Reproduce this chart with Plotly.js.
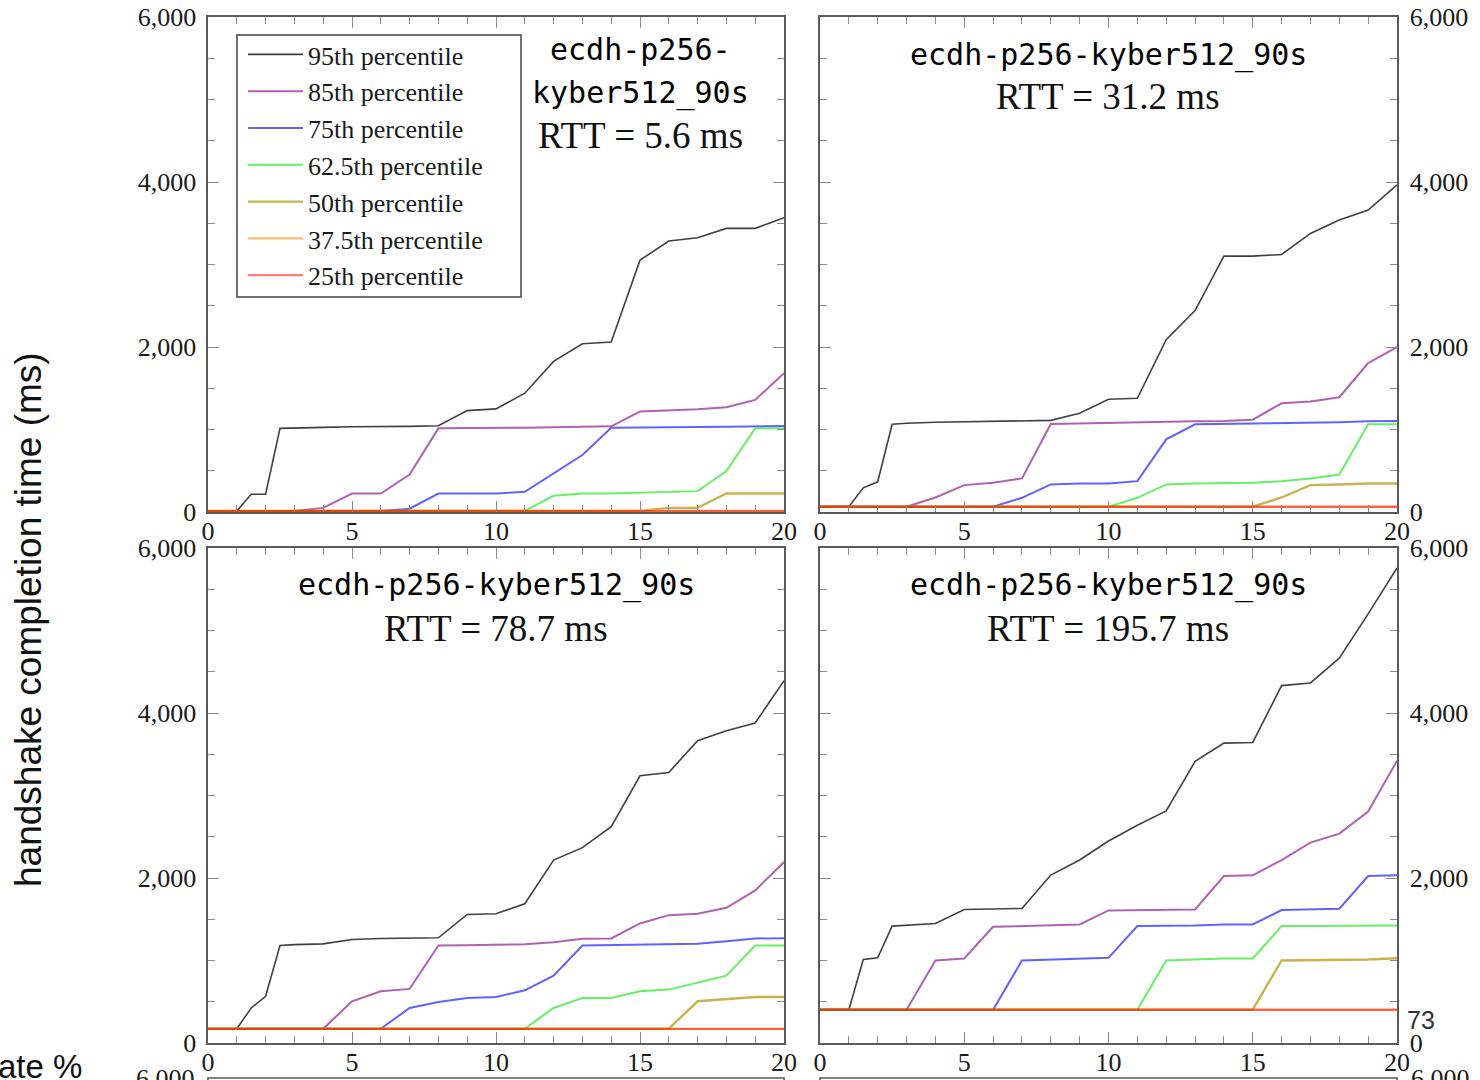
<!DOCTYPE html>
<html>
<head>
<meta charset="utf-8">
<script src="https://cdn.plot.ly/plotly-3.0.1.min.js"></script>
<style>
html,body{margin:0;padding:0;background:#fff;overflow:hidden;width:1480px;height:1080px;}
#chart{width:1480px;height:1080px;}
</style>
</head>
<body>
<div id="chart"></div>
<script>
// ---- data ----
const lossRate = [0, 1, 1.5, 2, 2.5, 3, 4, 5, 6, 7, 8, 9, 10, 11, 12, 13, 14, 15, 16, 17, 18, 19, 20];
const percentileNames = ['95th percentile','85th percentile','75th percentile','62.5th percentile','50th percentile','37.5th percentile','25th percentile'];
const panelTitles = ['ecdh-p256-kyber512_90s','ecdh-p256-kyber512_90s','ecdh-p256-kyber512_90s','ecdh-p256-kyber512_90s'];
const panelRtt = ['RTT = 5.6 ms','RTT = 31.2 ms','RTT = 78.7 ms','RTT = 195.7 ms'];

// RTT 5.6 ms
const rtt5_p95  = [12,12,216,216,1014,1020,1026,1034,1034,1038,1046,1229,1250,1440,1825,2040,2060,3053,3284,3324,3438,3438,3567];
const rtt5_p85  = [12,12,12,12,12,12,50,224,224,455,1014,1014,1022,1022,1026,1030,1038,1217,1229,1245,1270,1359,1683];
const rtt5_p75  = [12,12,12,12,12,12,12,12,12,40,224,224,224,245,467,690,1022,1022,1026,1030,1034,1038,1042];
const rtt5_p625 = [12,12,12,12,12,12,12,12,12,12,12,12,12,14,196,224,224,236,245,253,496,1014,1014];
const rtt5_p50  = [12,12,12,12,12,12,12,12,12,12,12,12,12,12,12,12,12,12,50,50,224,224,224];
const rtt5_p375 = [12,12,12,12,12,12,12,12,12,12,12,12,12,12,12,12,12,12,14,14,14,14,14];
const rtt5_p25  = [10,10,10,10,10,10,10,10,10,10,10,10,10,10,10,10,10,10,10,10,10,10,10];

// RTT 31.2 ms
const rtt31_p95  = [65,65,293,366,1063,1075,1087,1091,1095,1103,1111,1197,1367,1379,2088,2441,3101,3101,3121,3377,3539,3660,3964];
const rtt31_p85  = [65,65,65,65,65,65,176,326,354,407,1067,1075,1079,1087,1091,1099,1103,1119,1318,1339,1391,1805,1999];
const rtt31_p75  = [65,65,65,65,65,65,65,65,65,172,334,346,346,374,881,1063,1067,1071,1079,1083,1087,1099,1103];
const rtt31_p625 = [65,65,65,65,65,65,65,65,65,65,65,65,65,172,334,346,346,354,374,407,455,1063,1063];
const rtt31_p50  = [65,65,65,65,65,65,65,65,65,65,65,65,65,65,65,65,65,65,176,326,334,346,346];
const rtt31_p375 = [65,65,65,65,65,65,65,65,65,65,65,65,65,65,65,65,65,65,65,65,65,65,65];
const rtt31_p25  = [62,62,62,62,62,62,62,62,62,62,62,62,62,62,62,62,62,62,62,62,62,62,62];

// RTT 78.7 ms
const rtt78_p95  = [173,173,425,566,1182,1192,1202,1255,1267,1271,1275,1558,1566,1688,2218,2368,2623,3239,3279,3664,3785,3878,4393];
const rtt78_p85  = [173,173,173,173,173,173,173,506,627,656,1182,1186,1190,1198,1222,1263,1267,1449,1550,1566,1639,1850,2194];
const rtt78_p75  = [173,173,173,173,173,173,173,173,173,425,497,546,558,639,817,1182,1186,1186,1194,1202,1234,1267,1271];
const rtt78_p625 = [173,173,173,173,173,173,173,173,173,173,173,173,173,173,425,546,546,627,647,728,817,1182,1182];
const rtt78_p50  = [173,173,173,173,173,173,173,173,173,173,173,173,173,173,173,173,173,173,173,506,534,558,558];
const rtt78_p375 = [173,173,173,173,173,173,173,173,173,173,173,173,173,173,173,173,173,173,173,173,173,173,173];
const rtt78_p25  = [170,170,170,170,170,170,170,170,170,170,170,170,170,170,170,170,170,170,170,170,170,170,170];

// RTT 195.7 ms
const rtt195_p95  = [404,404,1012,1032,1417,1430,1449,1619,1627,1631,2036,2218,2449,2639,2813,3413,3635,3643,4332,4364,4664,5202,5757];
const rtt195_p85  = [404,404,404,404,404,404,1000,1024,1408,1417,1425,1437,1607,1611,1619,1619,2024,2032,2218,2429,2538,2805,3421];
const rtt195_p75  = [404,404,404,404,404,404,404,404,404,1000,1012,1020,1032,1417,1417,1425,1437,1437,1611,1619,1627,2024,2032];
const rtt195_p625 = [404,404,404,404,404,404,404,404,404,404,404,404,404,404,1000,1012,1024,1024,1417,1417,1421,1425,1425];
const rtt195_p50  = [404,404,404,404,404,404,404,404,404,404,404,404,404,404,404,404,404,404,1000,1004,1012,1012,1028];
const rtt195_p375 = [404,404,404,404,404,404,404,404,404,404,404,404,404,404,404,404,404,404,404,404,404,404,404];
const rtt195_p25  = [402,402,402,402,402,402,402,402,402,402,402,402,402,402,402,402,402,402,402,402,402,402,402];

const yTickVals = [0, 2000, 4000, 6000];
const xTickVals = [0, 5, 10, 15, 20];

// ---- styling ----
const lineColors = ['rgba(0,0,0,0.75)','rgba(128,0,128,0.62)','rgba(0,0,255,0.62)','rgba(0,230,0,0.6)','rgba(180,150,10,0.72)','rgba(255,128,0,0.55)','rgba(255,0,0,0.5)'];
const lineWidths = [1.6,2,2,2,2.4,2.4,2.2];

const panels = [
  [rtt5_p95, rtt5_p85, rtt5_p75, rtt5_p625, rtt5_p50, rtt5_p375, rtt5_p25],
  [rtt31_p95, rtt31_p85, rtt31_p75, rtt31_p625, rtt31_p50, rtt31_p375, rtt31_p25],
  [rtt78_p95, rtt78_p85, rtt78_p75, rtt78_p625, rtt78_p50, rtt78_p375, rtt78_p25],
  [rtt195_p95, rtt195_p85, rtt195_p75, rtt195_p625, rtt195_p50, rtt195_p375, rtt195_p25]
];

const W = 1480, H = 1080;
const px = v => v / W;
const py = v => 1 - v / H;

const traces = [];
panels.forEach((series, pi) => {
  const suf = pi === 0 ? '' : String(pi + 1);
  series.forEach((ys, si) => {
    traces.push({
      type: 'scatter', mode: 'lines',
      x: lossRate, y: ys,
      xaxis: 'x' + suf, yaxis: 'y' + suf,
      name: percentileNames[si],
      legendgroup: 'g' + si,
      showlegend: pi === 0,
      line: {color: lineColors[si], width: lineWidths[si]},
      hoverinfo: 'skip'
    });
  });
});

const serif = 'Liberation Serif, Times New Roman, serif';
const tickFont = {family: serif, size: 26, color: '#1a1a1a'};

function xAxis(domain, anchor) {
  return {
    domain: domain, anchor: anchor, range: [0, 20],
    tickmode: 'array', tickvals: xTickVals,
    ticks: 'inside', ticklen: 11, tickwidth: 1, tickcolor: '#8a8a8a',
    showline: true, linecolor: '#5a5a5a', linewidth: 1.6, mirror: 'allticks',
    showgrid: false, zeroline: false, tickfont: tickFont, ticklabelstandoff: -5,
    minor: {dtick: 1, tick0: 0, ticks: 'inside', ticklen: 7, tickwidth: 1, tickcolor: '#8a8a8a', showgrid: false},
    fixedrange: true
  };
}
function yAxis(domain, anchor, side) {
  return {
    domain: domain, anchor: anchor, range: [0, 6000], side: side,
    tickmode: 'array', tickvals: yTickVals, tickformat: ',d',
    ticks: 'inside', ticklen: 11, tickwidth: 1, tickcolor: '#8a8a8a',
    showline: true, linecolor: '#5a5a5a', linewidth: 1.6, mirror: 'allticks',
    showgrid: false, zeroline: false, tickfont: tickFont, ticklabelstandoff: side === 'left' ? 5 : 6,
    minor: {dtick: 500, tick0: 0, ticks: 'inside', ticklen: 7, tickwidth: 1, tickcolor: '#8a8a8a', showgrid: false},
    fixedrange: true
  };
}

const xL = [px(208), px(784)], xR = [px(820), px(1397)];
const yT = [py(512), py(17)], yB = [py(1043), py(548)];

const monoFont = {family: 'DejaVu Sans Mono, Liberation Mono, monospace', size: 30, color: '#000'};
const rttFont = {family: serif, size: 37, color: '#111'};

function ann(text, x, y, font, extra) {
  return Object.assign({text: text, xref: 'paper', yref: 'paper', x: px(x), y: py(y),
    xanchor: 'center', yanchor: 'middle', showarrow: false, font: font}, extra || {});
}

const annotations = [
  ann('ecdh-p256-', 640, 50, monoFont),
  ann('kyber512_90s', 640, 93, monoFont),
  ann(panelRtt[0], 640, 136, rttFont),
  ann(panelTitles[1], 1108, 55, monoFont),
  ann(panelRtt[1], 1108, 97, rttFont),
  ann(panelTitles[2], 496, 585, monoFont),
  ann(panelRtt[2], 496, 628, rttFont),
  ann(panelTitles[3], 1108, 585, monoFont),
  ann(panelRtt[3], 1108, 628, rttFont),
  ann('handshake completion time (ms)', 28, 620, {family: 'Liberation Sans, Arial, sans-serif', size: 37, color: '#111'}, {textangle: -90}),
  ann('ate %', 0, 1066, {family: 'Liberation Sans, Arial, sans-serif', size: 33, color: '#111'}, {xanchor: 'left', xshift: -4}),
  ann('73', 1421, 1020, {family: 'Liberation Sans, Arial, sans-serif', size: 25, color: '#333'}),
  ann('6,000', 197, 1078, tickFont, {xanchor: 'right'}),
  ann('6,000', 1409, 1078, tickFont, {xanchor: 'left'})
];

const shapes = [
  // legend frame
  {type: 'rect', xref: 'paper', yref: 'paper', x0: px(237), x1: px(521), y0: py(297), y1: py(35), line: {color: '#444', width: 1.5}, layer: 'above'},
  // top of the next row of panels (cut off by the page edge)
  {type: 'rect', xref: 'paper', yref: 'paper', x0: px(208), x1: px(784), y0: py(1110), y1: py(1078), line: {color: '#5a5a5a', width: 1.6}},
  {type: 'rect', xref: 'paper', yref: 'paper', x0: px(820), x1: px(1397), y0: py(1110), y1: py(1078), line: {color: '#5a5a5a', width: 1.6}}
];

const layout = {
  width: W, height: H,
  margin: {l: 0, r: 0, t: 0, b: 0, pad: 0},
  paper_bgcolor: '#fff', plot_bgcolor: '#fff',
  showlegend: true,
  legend: {
    x: px(243), y: py(31), xanchor: 'left', yanchor: 'top',
    bgcolor: 'rgba(0,0,0,0)', borderwidth: 0,
    font: {family: serif, size: 26, color: '#1a1a1a'},
    itemwidth: 55, tracegroupgap: 0, traceorder: 'normal'
  },
  xaxis: xAxis(xL, 'y'), yaxis: yAxis(yT, 'x', 'left'),
  xaxis2: xAxis(xR, 'y2'), yaxis2: yAxis(yT, 'x2', 'right'),
  xaxis3: xAxis(xL, 'y3'), yaxis3: yAxis(yB, 'x3', 'left'),
  xaxis4: xAxis(xR, 'y4'), yaxis4: yAxis(yB, 'x4', 'right'),
  annotations: annotations,
  shapes: shapes
};

Plotly.newPlot('chart', traces, layout, {displayModeBar: false, staticPlot: true});
</script>
</body>
</html>
